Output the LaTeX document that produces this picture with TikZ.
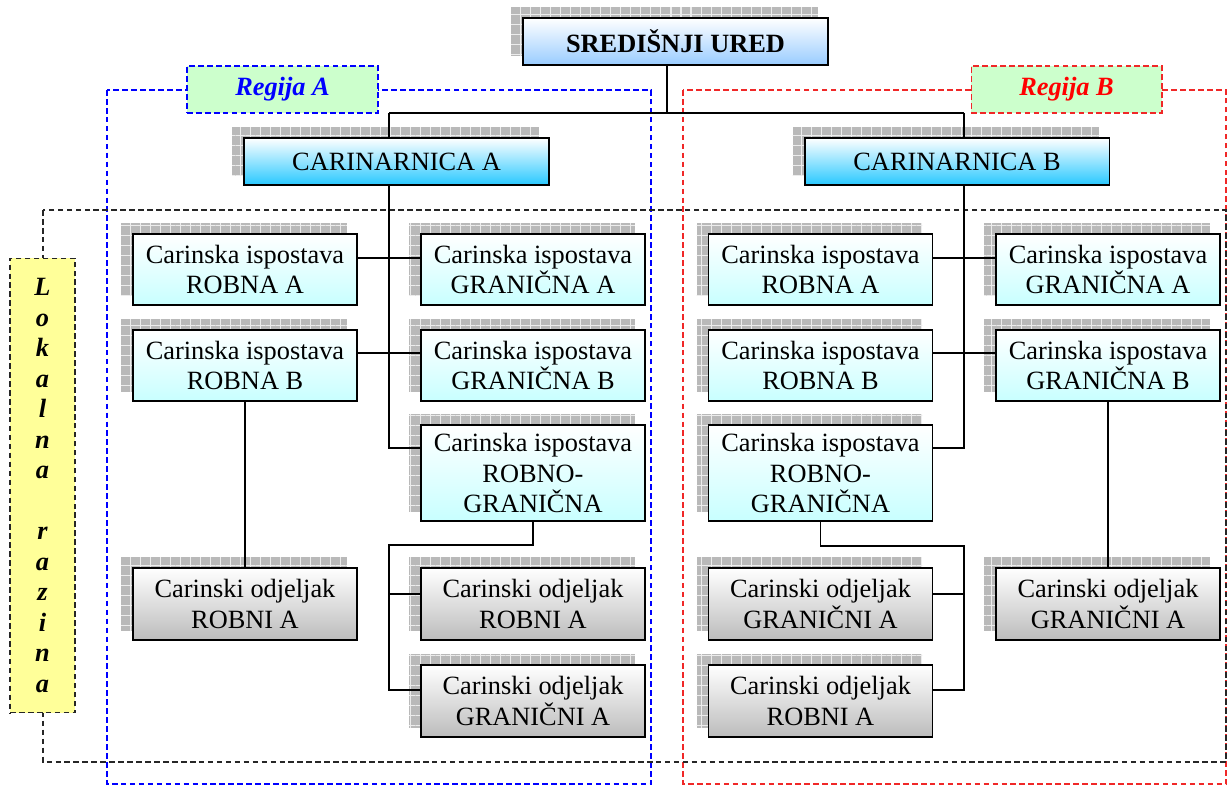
\documentclass[tikz,border=0pt]{standalone}
\usepackage{fontspec}
\setmainfont{Liberation Serif}
\usetikzlibrary{backgrounds,patterns.meta}
\definecolor{uredblue}{RGB}{153,204,255}
\definecolor{carcyan}{RGB}{40,200,255}
\definecolor{ispcyan}{RGB}{200,255,255}
\definecolor{odjgray}{RGB}{188,188,188}
\definecolor{regfill}{RGB}{204,255,204}
\definecolor{lokfill}{RGB}{255,255,153}
\definecolor{regred}{RGB}{240,40,40}
\tikzset{
  % osnovni okvir jedinice
  orgbox/.style={
    draw=black,
    line width=1.1pt,
    inner sep=0pt,
    align=center,
    font=\fontsize{15}{17.4}\selectfont
  },
  % sredisnji ured
  ured/.style={orgbox, minimum width=6.1cm, minimum height=0.94cm,
    top color=white, bottom color=uredblue,
    font=\fontsize{15}{17.4}\selectfont\bfseries},
  % carinarnica
  carin/.style={orgbox, minimum width=6.1cm, minimum height=0.94cm,
    top color=white, bottom color=carcyan},
  % carinska ispostava
  ispost/.style={orgbox, minimum width=4.48cm, minimum height=1.42cm,
    top color=white, bottom color=ispcyan},
  % carinski odjeljak
  odjel/.style={orgbox, minimum width=4.48cm, minimum height=1.44cm,
    top color=white, bottom color=odjgray},
  % sjena iza okvira
  shadowfill/.style={fill=gray!55,
    postaction={pattern={Hatch[distance=5.7pt, line width=0.6pt]},
      pattern color=gray!15}},
  % spojnice
  conn/.style={line width=0.85pt, black},
  % isprekidani okviri
  frame/.style={line width=0.6pt, dash pattern=on 3.2pt off 1.9pt},
  reglabel/.style={frame, fill=regfill, minimum width=3.82cm,
    minimum height=0.94cm, inner sep=0pt,
    font=\fontsize{15}{17.4}\selectfont\bfseries\itshape},
  lokal/.style={frame, draw=black!85, fill=lokfill, minimum width=1.3cm,
    minimum height=9.1cm, inner sep=0pt, align=center,
    font=\fontsize{15}{17.35}\selectfont\bfseries\itshape}
}
\begin{document}
\begin{tikzpicture}[x=0.02cm, y=-0.02cm]
    \useasboundingbox (0,0) rectangle (1228,786);

    % Okviri regija i lokalne razine
    \draw[frame, blue] (107,90) rectangle (651,784);
    \draw[frame, regred] (683,90) rectangle (1226,784);
    \draw[frame, black!85] (43,210) rectangle (1226,762);

    \node[reglabel, draw=blue, text=blue] (regA) at (282.5,89.5) {Regija A};
    \node[reglabel, draw=regred, text=red] (regB) at (1066.5,89.5) {Regija B};
    \node[lokal] (lok) at (42.5,485.5)
        {L\\o\\k\\a\\l\\n\\a\\\mbox{}\\r\\a\\z\\i\\n\\a};

    % Sredisnji ured i carinarnice
    \node[ured] (ured) at (675.5,41.5) {SREDIŠNJI URED};
    \node[carin] (carA) at (396.5,161.5) {CARINARNICA A};
    \node[carin] (carB) at (957,161.5) {CARINARNICA B};

    % Regija A
    \node[ispost] (raRA) at (245,269.5) {Carinska ispostava\\ROBNA A};
    \node[ispost] (raGA) at (533,269.5) {Carinska ispostava\\GRANIČNA A};
    \node[ispost] (raRB) at (245,365.5) {Carinska ispostava\\ROBNA B};
    \node[ispost] (raGB) at (533,365.5) {Carinska ispostava\\GRANIČNA B};
    \node[ispost, minimum height=1.92cm] (raRG) at (533,473)
        {Carinska ispostava\\ROBNO-\\GRANIČNA};
    \node[odjel] (raOR1) at (245,604) {Carinski odjeljak\\ROBNI A};
    \node[odjel] (raOR2) at (533,604) {Carinski odjeljak\\ROBNI A};
    \node[odjel] (raOG) at (533,701) {Carinski odjeljak\\GRANIČNI A};

    % Regija B
    \node[ispost] (rbRA) at (820.5,269.5) {Carinska ispostava\\ROBNA A};
    \node[ispost] (rbGA) at (1108,269.5) {Carinska ispostava\\GRANIČNA A};
    \node[ispost] (rbRB) at (820.5,365.5) {Carinska ispostava\\ROBNA B};
    \node[ispost] (rbGB) at (1108,365.5) {Carinska ispostava\\GRANIČNA B};
    \node[ispost, minimum height=1.92cm] (rbRG) at (820.5,473)
        {Carinska ispostava\\ROBNO-\\GRANIČNA};
    \node[odjel] (rbOG1) at (820.5,604) {Carinski odjeljak\\GRANIČNI A};
    \node[odjel] (rbOR) at (820.5,701) {Carinski odjeljak\\ROBNI A};
    \node[odjel] (rbOG2) at (1108,604) {Carinski odjeljak\\GRANIČNI A};

    % Sjene
    \begin{scope}[on background layer]
        \foreach \n in {ured,carA,carB,raRA,raGA,raRB,raGB,raRG,raOR1,raOR2,raOG,
                        rbRA,rbGA,rbRB,rbGB,rbRG,rbOG1,rbOR,rbOG2}
            \fill[shadowfill] ([shift={(-11,-10)}]\n.north west)
                rectangle ([shift={(-11,-10)}]\n.south east);
    \end{scope}

    % Tocke za spojnice
    \coordinate (busU) at (667,113);
    \coordinate (busA) at (389,113);
    \coordinate (busB) at (964,113);
    \coordinate (kA) at (389,545);
    \coordinate (kB) at (964,546);
    \coordinate (y1) at (0,258);
    \coordinate (y2) at (0,353);
    \coordinate (y3) at (0,448);
    \coordinate (y4) at (0,594);
    \coordinate (y5) at (0,690);

    % Spojnice: vrh
    \draw[conn] (ured.south -| busU) -- (busU);
    \draw[conn] (busA) -- (busB);
    \draw[conn] (busA) -- (carA.north -| busA);
    \draw[conn] (busB) -- (carB.north -| busB);

    % Spojnice: regija A
    \draw[conn] (carA.south -| busA) |- (raRG.west |- y3);
    \draw[conn] (raRA.east |- y1) -- (raGA.west |- y1);
    \draw[conn] (raRB.east |- y2) -- (raGB.west |- y2);
    \draw[conn] (raRB.south) -- (raOR1.north);
    \draw[conn] (raRG.south) |- (kA) -- (kA |- y5) -- (raOG.west |- y5);
    \draw[conn] (kA |- y4) -- (raOR2.west |- y4);

    % Spojnice: regija B
    \draw[conn] (carB.south -| busB) |- (rbRG.east |- y3);
    \draw[conn] (rbRA.east |- y1) -- (rbGA.west |- y1);
    \draw[conn] (rbRB.east |- y2) -- (rbGB.west |- y2);
    \draw[conn] (rbGB.south) -- (rbOG2.north);
    \draw[conn] (rbRG.south) |- (kB) -- (kB |- y5) -- (rbOR.east |- y5);
    \draw[conn] (kB |- y4) -- (rbOG1.east |- y4);
\end{tikzpicture}
\end{document}
